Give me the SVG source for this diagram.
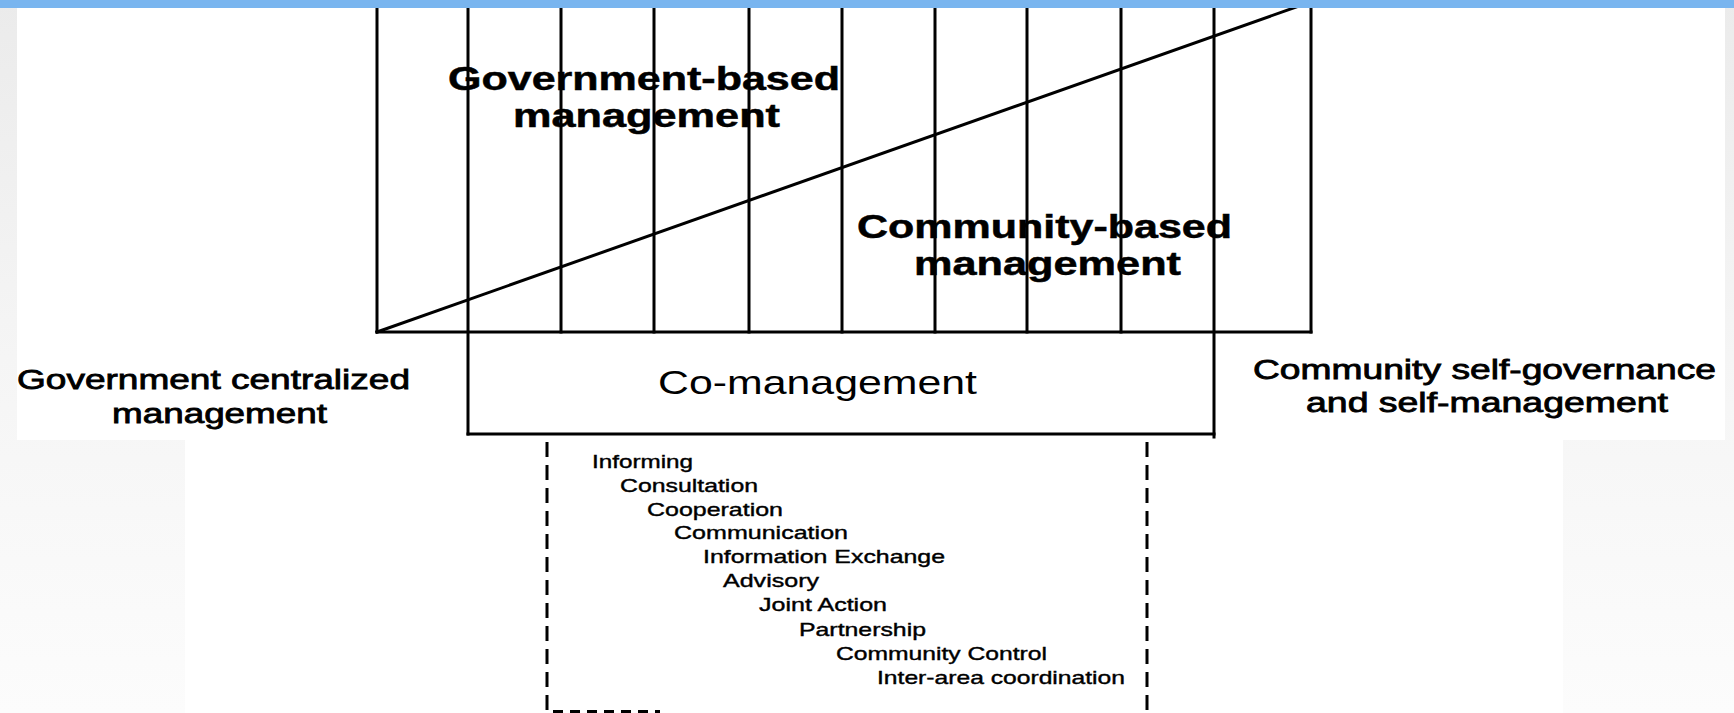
<svg xmlns="http://www.w3.org/2000/svg" width="1734" height="713" viewBox="0 0 1734 713">
  <defs>
    <linearGradient id="bgGrad" x1="0" y1="0" x2="0" y2="1">
      <stop offset="0" stop-color="#ebebeb"/>
      <stop offset="0.5" stop-color="#f5f5f5"/>
      <stop offset="1" stop-color="#fcfcfc"/>
    </linearGradient>
    <style>
      .ln { stroke: #000; stroke-width: 3; fill: none; stroke-linecap: square; }
      .dash { stroke: #000; stroke-width: 3; fill: none; stroke-dasharray: 15 8; }
      .hdr { font-family: "Liberation Sans", Arial, sans-serif; font-weight: bold; font-size: 33px; fill: #000; stroke: #000; stroke-width: 0.5; }
      .side { font-family: "Liberation Sans", Arial, sans-serif; font-size: 27px; fill: #000; stroke: #000; stroke-width: 0.8; }
      .co { font-family: "Liberation Sans", Arial, sans-serif; font-size: 33px; fill: #000; }
      .item { font-family: "Liberation Sans", Arial, sans-serif; font-size: 19px; fill: #000; stroke: #000; stroke-width: 0.4; }
    </style>
  </defs>

  <!-- background -->
  <rect x="0" y="0" width="1734" height="713" fill="url(#bgGrad)"/>
  <rect x="17" y="8" width="1708" height="432" fill="#ffffff"/>
  <rect x="185" y="440" width="1378" height="273" fill="#ffffff"/>

  <!-- chart frame -->
  <g id="chart-frame">
    <line class="ln" x1="377" y1="0" x2="377" y2="332"/>
    <line class="ln" x1="561" y1="0" x2="561" y2="332"/>
    <line class="ln" x1="654" y1="0" x2="654" y2="332"/>
    <line class="ln" x1="749" y1="0" x2="749" y2="332"/>
    <line class="ln" x1="842" y1="0" x2="842" y2="332"/>
    <line class="ln" x1="935" y1="0" x2="935" y2="332"/>
    <line class="ln" x1="1027" y1="0" x2="1027" y2="332"/>
    <line class="ln" x1="1121" y1="0" x2="1121" y2="332"/>
    <line class="ln" x1="1311" y1="0" x2="1311" y2="332"/>
    <line class="ln" x1="377" y1="332" x2="1311" y2="332"/>
  </g>

  <g id="connectors">
    <line class="ln" x1="377" y1="332" x2="1316" y2="0"/>
  </g>

  <g id="co-management">
    <line class="ln" x1="468" y1="0" x2="468" y2="434"/>
    <line class="ln" x1="1214" y1="0" x2="1214" y2="437"/>
    <line class="ln" x1="468" y1="434" x2="1214" y2="434"/>
    <text class="co" x="658" y="394" textLength="319" lengthAdjust="spacingAndGlyphs">Co-management</text>
  </g>

  <g id="government-based">
    <text class="hdr" x="448" y="90" textLength="392" lengthAdjust="spacingAndGlyphs">Government-based</text>
    <text class="hdr" x="513" y="127" textLength="267" lengthAdjust="spacingAndGlyphs">management</text>
  </g>

  <g id="community-based">
    <text class="hdr" x="857" y="238" textLength="375" lengthAdjust="spacingAndGlyphs">Community-based</text>
    <text class="hdr" x="914" y="275" textLength="267" lengthAdjust="spacingAndGlyphs">management</text>
  </g>

  <g id="government-centralized">
    <text class="side" x="17" y="389" textLength="393" lengthAdjust="spacingAndGlyphs">Government centralized</text>
    <text class="side" x="112" y="423" textLength="215" lengthAdjust="spacingAndGlyphs">management</text>
  </g>

  <g id="community-self">
    <text class="side" x="1253" y="379" textLength="463" lengthAdjust="spacingAndGlyphs">Community self-governance</text>
    <text class="side" x="1306" y="412" textLength="362" lengthAdjust="spacingAndGlyphs">and self-management</text>
  </g>

  <g id="stages">
    <line class="dash" x1="547" y1="442" x2="547" y2="713"/>
    <line class="dash" x1="1147" y1="442" x2="1147" y2="713"/>
    <line stroke="#000" stroke-width="3" stroke-dasharray="10 7" x1="553" y1="711.5" x2="660" y2="711.5"/>
    <text class="item" x="592" y="468" textLength="101" lengthAdjust="spacingAndGlyphs">Informing</text>
    <text class="item" x="620" y="492" textLength="138" lengthAdjust="spacingAndGlyphs">Consultation</text>
    <text class="item" x="647" y="516" textLength="136" lengthAdjust="spacingAndGlyphs">Cooperation</text>
    <text class="item" x="674" y="539" textLength="174" lengthAdjust="spacingAndGlyphs">Communication</text>
    <text class="item" x="703" y="563" textLength="242" lengthAdjust="spacingAndGlyphs">Information Exchange</text>
    <text class="item" x="723" y="587" textLength="96" lengthAdjust="spacingAndGlyphs">Advisory</text>
    <text class="item" x="759" y="611" textLength="128" lengthAdjust="spacingAndGlyphs">Joint Action</text>
    <text class="item" x="799" y="636" textLength="127" lengthAdjust="spacingAndGlyphs">Partnership</text>
    <text class="item" x="836" y="660" textLength="211" lengthAdjust="spacingAndGlyphs">Community Control</text>
    <text class="item" x="877" y="684" textLength="248" lengthAdjust="spacingAndGlyphs">Inter-area coordination</text>
  </g>

  <!-- top bar -->
  <rect x="0" y="0" width="1734" height="8" fill="#79b5ef"/>
</svg>
